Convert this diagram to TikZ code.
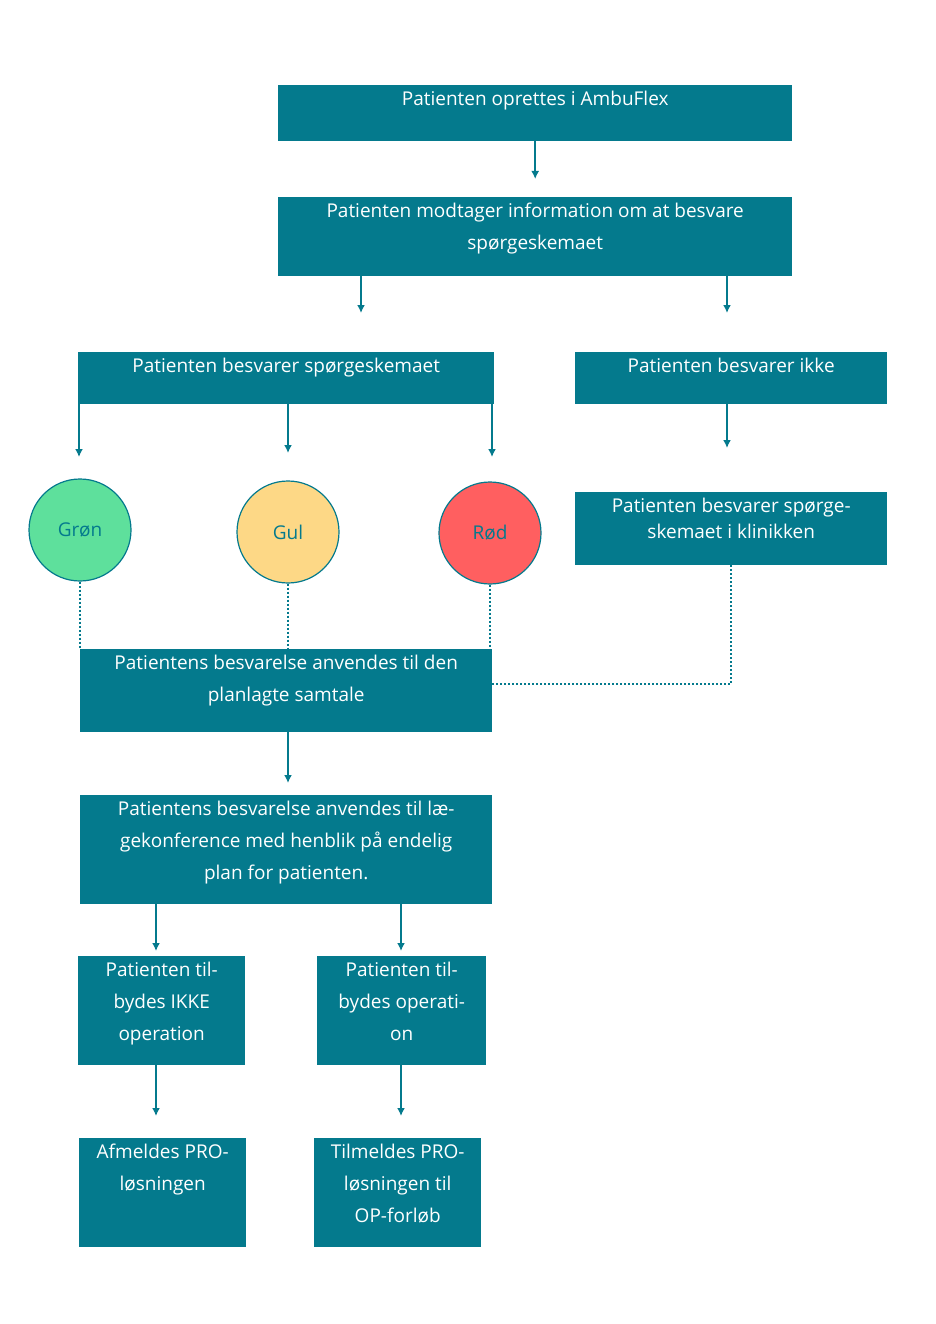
\documentclass[tikz,border=0pt]{standalone}
\usepackage{fontspec}
\setmainfont{Open Sans}
\usetikzlibrary{arrows.meta,positioning,calc}
\definecolor{teal1}{HTML}{047A8D}
\definecolor{green1}{HTML}{5EE09C}
\definecolor{yellow1}{HTML}{FDD886}
\definecolor{red1}{HTML}{FF5F60}

\begin{document}
\begin{tikzpicture}[
    x=1pt, y=-1pt,
    % Styles
    box/.style={
        rectangle,
        fill=teal1,
        anchor=north west,
        inner sep=0pt
    },
    txt/.style={
        anchor=north,
        inner sep=0pt,
        align=center,
        text=white,
        font=\fontsize{19}{32}\selectfont
    },
    light/.style={
        circle,
        draw=teal1,
        line width=1.2pt,
        minimum size=102pt,
        inner sep=0pt,
        text=teal1,
        font=\fontsize{19}{24}\selectfont
    },
    % Line Styles
    arr/.style={draw=teal1, line width=2.5pt, -{Latex[length=8pt,width=8pt]}},
    dots/.style={draw=teal1, line width=2pt, dotted}
]
\useasboundingbox (0,0) rectangle (936,1324);

% --- Boxes ---
\node[box, minimum width=514, minimum height=56] (Create) at (278,85) {};
\node[box, minimum width=514, minimum height=79] (Info) at (278,197) {};
\node[box, minimum width=416, minimum height=52] (Answer) at (78,352) {};
\node[box, minimum width=312, minimum height=52] (NoAnswer) at (575,352) {};
\node[box, minimum width=312, minimum height=73] (Clinic) at (575,492) {};
\node[box, minimum width=412, minimum height=83] (Talk) at (80,649) {};
\node[box, minimum width=412, minimum height=109] (Conf) at (80,795) {};
\node[box, minimum width=167, minimum height=109] (NoOp) at (78,956) {};
\node[box, minimum width=169, minimum height=109] (Op) at (317,956) {};
\node[box, minimum width=167, minimum height=109] (Off) at (79,1138) {};
\node[box, minimum width=167, minimum height=109] (On) at (314,1138) {};

% --- Texts ---
\node[txt] (tCreate) at ($(Create.north)+(0,6)$) {Patienten oprettes i AmbuFlex};
\node[txt] (tInfo) at ($(Info.north)+(0,6)$) {Patienten modtager information om at besvare\\spørgeskemaet};
\node[txt] (tAnswer) at ($(Answer.north)+(0,6)$) {Patienten besvarer spørgeskemaet};
\node[txt] (tNoAnswer) at ($(NoAnswer.north)+(0,6)$) {Patienten besvarer ikke};
\node[txt] (tClinic) at ($(Clinic.north)+(0,6)$) {Patienten besvarer spørge-\\[-6pt]skemaet i klinikken};
\node[txt] (tTalk) at ($(Talk.north)+(0,6)$) {Patientens besvarelse anvendes til den\\planlagte samtale};
\node[txt] (tConf) at ($(Conf.north)+(0,6)$) {Patientens besvarelse anvendes til læ-\\gekonference med henblik på endelig\\plan for patienten.};
\node[txt] (tNoOp) at ($(NoOp.north)+(0,6)$) {Patienten til-\\bydes IKKE\\operation};
\node[txt] (tOp) at ($(Op.north)+(0,6)$) {Patienten til-\\bydes operati-\\on};
\node[txt] (tOff) at ($(Off.north)+(0,6)$) {Afmeldes PRO-\\løsningen};
\node[txt] (tOn) at ($(On.north)+(0,6)$) {Tilmeldes PRO-\\løsningen til\\OP-forløb};

% --- Traffic lights ---
\node[light, fill=green1] (Green) at (80,530) {Grøn};
\node[light, fill=yellow1] (Yellow) at (288,532) {Gul};
\node[light, fill=red1] (Red) at (490,533) {Rød};

% --- Arrows ---
\draw[arr] (Create.south) -- ([yshift=18pt]Info.north);
\draw[arr] (Info.south -| 361,0) -- (361,313);
\draw[arr] (Info.south -| 727,0) -- (727,313);
\draw[arr] (Answer.south -| 79,0) -- (79,457);
\draw[arr] (Answer.south -| 288,0) -- (288,453);
\draw[arr] (Answer.south -| 492,0) -- (492,457);
\draw[arr] (NoAnswer.south -| 727,0) -- (727,448);
\draw[arr] (Talk.south -| 288,0) -- ([yshift=12pt]Conf.north -| 288,0);
\draw[arr] (Conf.south -| 156,0) -- ([yshift=5pt]NoOp.north -| 156,0);
\draw[arr] (Conf.south -| 401,0) -- ([yshift=5pt]Op.north -| 401,0);
\draw[arr] (NoOp.south -| 156,0) -- ([yshift=22pt]Off.north -| 156,0);
\draw[arr] (Op.south -| 401,0) -- ([yshift=22pt]On.north -| 401,0);

% --- Dotted links ---
\draw[dots] (Green.south) -- (Talk.north -| Green.south);
\draw[dots] (Yellow.south) -- (Talk.north -| Yellow.south);
\draw[dots] (Red.south) -- (Talk.north -| Red.south);
\draw[dots] (Clinic.south -| 731,0) |- (Talk.east |- 0,684);

\end{tikzpicture}
\end{document}
